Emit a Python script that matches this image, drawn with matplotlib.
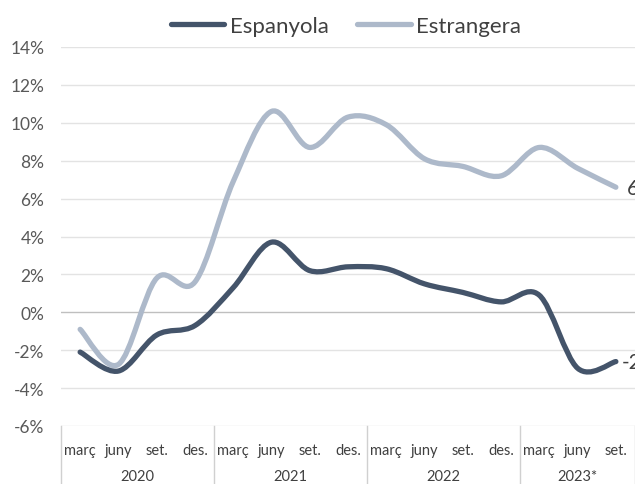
import numpy as np
import matplotlib
matplotlib.use("Agg")
import matplotlib.pyplot as plt
from matplotlib.path import Path
from matplotlib.patches import PathPatch
from matplotlib.lines import Line2D
from matplotlib.transforms import blended_transform_factory

plt.rcParams['font.family'] = ['Lato', 'DejaVu Sans']

quarters = ["març", "juny", "set.", "des.",
            "març", "juny", "set.", "des.",
            "març", "juny", "set.", "des.",
            "març", "juny", "set."]
years = ["2020", "2021", "2022", "2023*"]
year_sizes = [4, 4, 4, 3]

espanyola = [-2.1, -3.1, -1.2, -0.7, 1.3, 3.7, 2.2, 2.4, 2.3, 1.5, 1.05, 0.55, 0.9, -2.95, -2.6]
estrangera = [-0.9, -2.75, 1.8, 1.6, 6.9, 10.6, 8.7, 10.3, 9.9, 8.1, 7.7, 7.2, 8.7, 7.6, 6.6]
labels_end = ["-2,6%", "6,6%"]

yticks = [-6, -4, -2, 0, 2, 4, 6, 8, 10, 12, 14]

c_esp = "#44546A"
c_est = "#ADB9CA"

fig = plt.figure(figsize=(6.35, 4.85), dpi=100)
ax = fig.add_axes([61/635, 1 - 427/485, 574/635, 379/485])


def smooth_path(xs, ys):
    pts = np.column_stack([xs, ys]).astype(float)
    n = len(pts)
    verts = [pts[0]]
    codes = [Path.MOVETO]
    for i in range(n - 1):
        p0 = pts[i - 1] if i > 0 else pts[i]
        p1 = pts[i]
        p2 = pts[i + 1]
        p3 = pts[i + 2] if i + 2 < n else pts[i + 1]
        c1 = p1 + (p2 - p0) / 6.0
        c2 = p2 - (p3 - p1) / 6.0
        verts += [c1, c2, p2]
        codes += [Path.CURVE4] * 3
    return Path(verts, codes)


x = np.arange(len(quarters))
for ys, col in [(estrangera, c_est), (espanyola, c_esp)]:
    patch = PathPatch(smooth_path(x, ys), facecolor="none", edgecolor=col,
                      lw=3.8, capstyle="round", joinstyle="round", zorder=3)
    ax.add_patch(patch)

ax.set_xlim(-0.5, len(quarters) - 0.5)
ax.set_ylim(-6, 14)
ax.set_yticks(yticks)
ax.set_yticklabels([f"{v}%" for v in yticks], fontsize=12.5, color="#595959")
for v in yticks:
    ax.axhline(v, color="#BFBFBF" if v == 0 else "#E3E3E3", lw=1.0, zorder=1)
ax.set_xticks([])
ax.tick_params(axis="y", length=0, pad=12)
for s in ax.spines.values():
    s.set_visible(False)

# end labels (cut off by the figure edge, as in the reference)
ax.annotate(labels_end[0], (x[-1], espanyola[-1]), xytext=(4, 0), textcoords="offset points",
            va="center", ha="left", fontsize=15, color="#404040", annotation_clip=False)
ax.annotate(labels_end[1], (x[-1], estrangera[-1]), xytext=(8, 0), textcoords="offset points",
            va="center", ha="left", fontsize=15, color="#404040", annotation_clip=False)

# multilevel category axis
tr = blended_transform_factory(ax.transData, ax.transAxes)
bottom = -58 / 379
for i, q in enumerate(quarters):
    ax.text(i, -24 / 379, q, transform=tr, ha="center", va="center", fontsize=10.5, color="#404040")
start = 0
ax.plot([-0.5, -0.5], [0, bottom], transform=tr, color="#D0D0D0", lw=1.0, clip_on=False)
for y, sz in zip(years, year_sizes):
    mid = start + (sz - 1) / 2
    ax.text(mid, -50 / 379, y, transform=tr, ha="center", va="center", fontsize=10.5, color="#404040")
    end = start + sz - 0.5
    ax.plot([end, end], [0, bottom], transform=tr, color="#D0D0D0", lw=1.0, clip_on=False)
    start += sz

handles = [Line2D([], [], color=c_esp, lw=3.8, solid_capstyle="round"),
           Line2D([], [], color=c_est, lw=3.8, solid_capstyle="round")]
fig.legend(handles, ["Espanyola", "Estrangera"], loc="center", bbox_to_anchor=(0.545, 1 - 27/485),
           ncol=2, frameon=False, fontsize=16, handlelength=2.4, handletextpad=0.25,
           columnspacing=1.3, labelcolor="#404040", borderpad=0, borderaxespad=0)

fig.savefig("out.png", dpi=100)
